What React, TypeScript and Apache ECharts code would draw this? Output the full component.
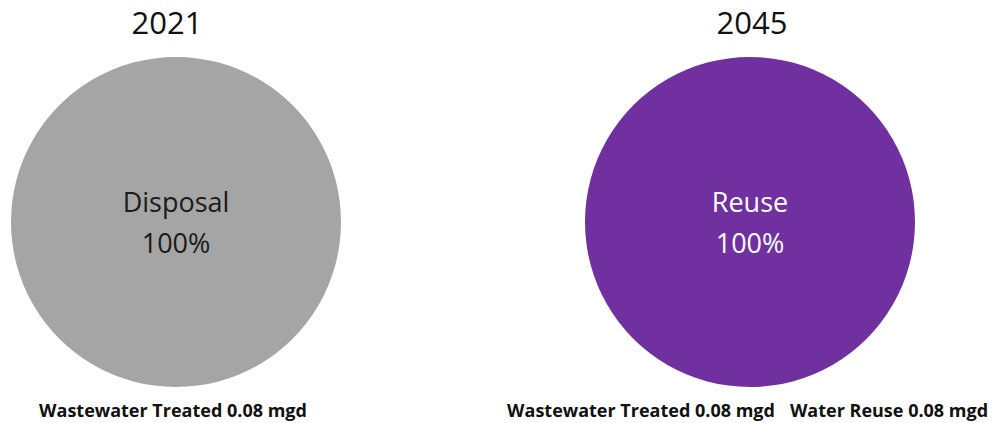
import React, { useEffect, useRef } from "react";
import * as echarts from "echarts";

const years = ["2021", "2045"];
const sliceNames = ["Disposal", "Reuse"];
const sliceValues = [0.08, 0.08];
const sliceColors = ["#A5A5A5", "#7030A0"];
const sliceLabelColors = ["#1a1a1a", "#ffffff"];
const footnotes = [
  ["Wastewater Treated 0.08 mgd"],
  ["Wastewater Treated 0.08 mgd", "Water Reuse 0.08 mgd"],
];

const FONT = "'Open Sans', 'Noto Sans', sans-serif";

export default function App() {
  const ref = useRef<HTMLDivElement>(null);
  useEffect(() => {
    if (!ref.current) return;
    const chart = echarts.init(ref.current, null, { renderer: "svg" });
    const centersX = [176, 750];
    const titleX = [162, 747];
    const footX = [[173], [641, 889]];
    chart.setOption({
      animation: false,
      backgroundColor: "#ffffff",
      title: years.map((y, i) => ({
        text: y,
        left: titleX[i],
        top: 1,
        textAlign: "center",
        textStyle: { fontFamily: FONT, fontSize: 31, fontWeight: "normal", color: "#111" },
      })),
      graphic: footnotes.flatMap((arr, i) =>
        arr.map((t, j) => ({
          type: "text",
          x: footX[i][j],
          y: 410,
          style: {
            text: t,
            fontFamily: FONT,
            fontSize: 18,
            fontWeight: "bold",
            fill: "#111",
            align: "center",
            verticalAlign: "middle",
          },
        }))
      ),
      series: sliceNames.map((n, i) => ({
        type: "pie",
        center: [centersX[i], 222],
        radius: [0, 165],
        silent: true,
        emphasis: { disabled: true },
        labelLine: { show: false },
        label: {
          show: true,
          position: "center",
          formatter: "{b}\n{d}%",
          fontFamily: FONT,
          fontSize: 27,
          lineHeight: 41,
          color: sliceLabelColors[i],
        },
        itemStyle: { color: sliceColors[i], borderWidth: 0 },
        data: [{ name: n, value: sliceValues[i] }],
      })),
    });
    return () => chart.dispose();
  }, []);
  return (
    <div
      ref={ref}
      style={{ position: "fixed", left: 0, top: 0, width: 995, height: 423 }}
    />
  );
}
